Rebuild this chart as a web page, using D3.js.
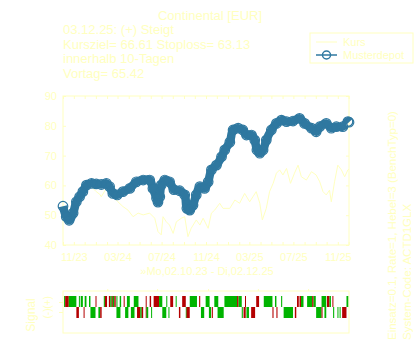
<!DOCTYPE html>
<html>
<head>
<meta charset="utf-8">
<script src="https://cdn.jsdelivr.net/npm/d3@7"></script>
<style>
    body { margin: 0; background: #fff; }
    text { font-family: "Liberation Sans", Arial, sans-serif; fill: #ffffc0; }
</style>
</head>
<body>
<div id="chart" style="width:420px;height:350px"></div>
<script>
// period of the chart, all day values below are days after startDate
const startDate = new Date(2023, 9, 2);
const endDate = new Date(2025, 11, 2);

const titleLines = ["03.12.25: (+) Steigt", "Kursziel= 66.61  Stoploss= 63.13", "innerhalb 10-Tagen", "Vortag= 65.42"];

// Kurs (price)
const kursDays = [0,9,18,28,37,46,55,65,79,92,102,106,120,134,152,166,180,194,208,222,240,254,263,272,277,286,295,305,314,328,337,346,355,369,379,388,402,411,420,434,443,462,476,489,503,517,526,535,545,552,563,572,582,591,600,609,619,630,641,651,660,674,688,701,711,720,729,738,743,752,761,771,780,789,792];
const kursValues = [53,50,48,49.5,51,54,57,59,59.5,57.9,57,56.2,59,56.8,54.5,52.9,51.7,49.5,50.7,50.1,50.7,49,44.5,43.4,49.5,47.8,46.7,43.9,47.8,49,49.5,42.8,45.6,48.4,46.7,49,45.6,50.7,51.7,54,52.3,52.3,55.1,54,57.3,54.5,56.2,57.9,54,48.4,52.3,57.9,60.7,64.1,65.2,63.5,65.7,60.7,64.1,66.8,62.9,61.8,64.6,63.5,61.2,57.9,56.8,58.4,54.5,61.2,66.8,65.2,62.9,65.2,65.4];

// Musterdepot
const depotDays = [0,9,17,28,37,46,55,65,79,92,106,120,129,138,150,166,185,203,222,240,249,259,263,268,272,282,295,307,323,337,343,351,360,369,379,392,402,411,425,439,448,462,471,485,498,508,522,531,537,545,554,563,577,591,605,619,637,655,669,688,701,711,729,743,757,775,789,792];
const depotValues = [53,49.5,48.3,50.7,54.5,56.2,57.9,60.1,60.7,60.5,60.3,60.7,59.6,57.3,56.8,57.9,59,61.2,61.8,61.8,59,55.7,54.4,56.2,60.1,61.8,61.2,58.6,58.2,56.8,52.3,51.7,53.4,56.8,59.6,59,61.2,65.2,66.8,69.6,71.9,74.5,78.6,79.2,78.6,76.9,76.9,75.2,71.9,70.8,71.9,75.2,78.6,80.8,81.9,81.4,81.6,82.5,80.8,79.2,78,79.7,80.8,79.2,79.7,79.7,81.4,81.2];

const yTicks = [40, 50, 60, 70, 80, 90];
const xLabelDates = ["2023-11-01", "2024-03-01", "2024-07-01", "2024-11-01", "2025-03-01", "2025-07-01", "2025-11-01"];

// signal segments [fromDay, toDay, colour]  g = green, r = red
const signalPlus = [[3,6,"g"],[6,16,"r"],[16,37,"g"],[44,46,"g"],[49,55,"g"],[60,65,"g"],[72,76,"g"],[90,92,"r"],[113,116,"g"],[116,122,"r"],[127,131,"r"],[131,135,"g"],[135,138,"r"],[138,142,"g"],[142,146,"r"],[148,150,"g"],[157,161,"g"],[168,170,"r"],[177,185,"g"],[196,209,"g"],[229,231,"r"],[240,244,"r"],[251,266,"r"],[266,275,"g"],[286,288,"g"],[297,305,"r"],[312,314,"g"],[330,340,"r"],[351,371,"g"],[377,380,"r"],[395,406,"g"],[419,430,"g"],[447,482,"g"],[482,486,"r"],[486,495,"g"],[504,506,"r"],[535,543,"r"],[556,580,"g"],[587,591,"g"],[604,607,"g"],[648,653,"r"],[655,659,"r"],[659,666,"g"],[676,690,"g"],[690,694,"r"],[694,700,"g"],[716,729,"g"],[731,738,"r"],[738,742,"g"],[746,748,"r"],[785,790,"g"]];
const signalMinus = [[37,44,"r"],[57,59,"r"],[76,90,"g"],[98,103,"g"],[103,107,"r"],[148,159,"g"],[172,181,"g"],[188,198,"g"],[205,214,"r"],[214,218,"g"],[218,222,"r"],[229,231,"r"],[231,236,"g"],[244,246,"g"],[275,286,"g"],[292,294,"g"],[321,325,"r"],[340,342,"g"],[342,351,"r"],[382,391,"g"],[404,410,"g"],[412,415,"r"],[428,445,"g"],[495,498,"g"],[500,506,"r"],[508,515,"g"],[521,532,"r"],[580,583,"r"],[591,594,"r"],[611,637,"g"],[642,646,"r"],[701,716,"g"],[716,718,"r"],[724,729,"g"],[748,751,"g"],[760,762,"g"],[766,768,"g"],[773,785,"r"]];
const signalTickDays = [124, 262, 403, 541, 680];

class SignalChart {

    constructor(parentElement) {
        this.parentElement = parentElement;
        this.yellow = "#ffffc0";
        this.blue = "#2f78a0";
        this.green = "#00b400";
        this.red = "#b40000";
        this.initVis();
    }

    initVis() {
        let vis = this;

        vis.left = 63; vis.right = 349; vis.top = 96; vis.bottom = 245;

        vis.svg = d3.select("#" + vis.parentElement).append("svg")
            .attr("width", 420)
            .attr("height", 350);

        vis.x = d3.scaleTime()
            .domain([startDate, endDate])
            .range([vis.left, vis.right]);
        vis.y = d3.scaleLinear()
            .domain([40, 90])
            .range([vis.bottom, vis.top]);

        vis.day = d => d3.timeDay.offset(startDate, d);

        // title block
        vis.svg.append("text")
            .attr("x", 210).attr("y", 19.5)
            .attr("text-anchor", "middle")
            .style("font-size", "13px")
            .text("Continental [EUR]");
        vis.svg.selectAll(".tline")
            .data(titleLines)
            .enter()
            .append("text")
            .attr("class", "tline")
            .attr("x", 63)
            .attr("y", (d, i) => 34 + i * 14.5)
            .style("font-size", "13px")
            .text(d => d);

        vis.drawMain();
        vis.drawLegend();
        vis.drawSignals();

        // rotated side notes
        vis.svg.append("text")
            .attr("transform", "translate(396,340) rotate(-90)")
            .style("font-size", "11.5px")
            .text("Einsatz=0.1, Rate=1, Hebel=3 (BenchTyp=0)");
        vis.svg.append("text")
            .attr("transform", "translate(411,340) rotate(-90)")
            .style("font-size", "11.5px")
            .text("System-Code: ACTD1GLX");
    }

    drawMain() {
        let vis = this;
        let months = d3.timeMonth.range(startDate, endDate);
        if (months[0] > startDate) months.unshift(startDate);

        // box
        vis.svg.append("rect")
            .attr("x", vis.left).attr("y", vis.top)
            .attr("width", vis.right - vis.left).attr("height", vis.bottom - vis.top)
            .attr("fill", "none").attr("stroke", vis.yellow);

        let gx = vis.svg.append("g")
            .attr("transform", `translate(0, ${vis.bottom})`)
            .call(d3.axisBottom(vis.x).tickValues(months).tickSizeInner(-3).tickSizeOuter(0).tickFormat(""));
        let gxt = vis.svg.append("g")
            .attr("transform", `translate(0, ${vis.top})`)
            .call(d3.axisTop(vis.x).tickValues(months).tickSizeInner(-3).tickSizeOuter(0).tickFormat(""));
        let gxl = vis.svg.append("g")
            .attr("transform", `translate(0, ${vis.bottom})`)
            .call(d3.axisBottom(vis.x)
                .tickValues(xLabelDates.map(d => d3.timeParse("%Y-%m-%d")(d)))
                .tickSize(0).tickPadding(8)
                .tickFormat(d3.timeFormat("%m/%y")));
        let gy = vis.svg.append("g")
            .attr("transform", `translate(${vis.left}, 0)`)
            .call(d3.axisLeft(vis.y).tickValues(yTicks).tickSizeInner(-3).tickSizeOuter(0).tickPadding(6));
        let gyr = vis.svg.append("g")
            .attr("transform", `translate(${vis.right}, 0)`)
            .call(d3.axisRight(vis.y).tickValues(yTicks).tickSizeInner(-3).tickSizeOuter(0).tickFormat(""));

        [gx, gxt, gxl, gy, gyr].forEach(g => {
            g.select(".domain").remove();
            g.selectAll("line").attr("stroke", vis.yellow);
            g.selectAll("text").attr("fill", vis.yellow)
                .style("font-family", "'Liberation Sans', Arial, sans-serif")
                .style("font-size", "11px");
        });

        vis.svg.append("text")
            .attr("x", 207).attr("y", 275)
            .attr("text-anchor", "middle")
            .style("font-size", "11px")
            .text("»Mo,02.10.23 - Di,02.12.25");

        let kurs = kursDays.map((d, i) => ({date: vis.day(d), value: kursValues[i]}));
        let depot = depotDays.map((d, i) => ({date: vis.day(d), value: depotValues[i]}));

        let line = d3.line()
            .x(d => vis.x(d.date))
            .y(d => vis.y(d.value));

        vis.svg.append("path")
            .datum(kurs)
            .attr("d", line)
            .attr("fill", "none")
            .attr("stroke", vis.yellow)
            .attr("stroke-width", 1);

        // thick band under the markers, the markers are so dense they read as a band
        vis.svg.append("path")
            .datum(depot)
            .attr("d", line.curve(d3.curveCatmullRom.alpha(0.5)))
            .attr("fill", "none")
            .attr("stroke", vis.blue)
            .attr("stroke-width", 8.5)
            .attr("stroke-linejoin", "round");

        vis.svg.selectAll(".depot")
            .data(depot)
            .enter()
            .append("circle")
            .attr("class", "depot")
            .attr("cx", d => vis.x(d.date))
            .attr("cy", d => vis.y(d.value))
            .attr("r", 4.8)
            .attr("fill", "none")
            .attr("stroke", vis.blue)
            .attr("stroke-width", 1.2);
    }

    drawLegend() {
        let vis = this;
        let lg = vis.svg.append("g").attr("transform", "translate(310, 33)");
        lg.append("rect")
            .attr("width", 103).attr("height", 30)
            .attr("fill", "none").attr("stroke", vis.yellow);
        lg.append("line")
            .attr("x1", 6).attr("x2", 27).attr("y1", 9).attr("y2", 9)
            .attr("stroke", vis.yellow);
        lg.append("line")
            .attr("x1", 6).attr("x2", 27).attr("y1", 22).attr("y2", 22)
            .attr("stroke", vis.blue).attr("stroke-width", 1.5);
        lg.append("circle")
            .attr("cx", 16.5).attr("cy", 22).attr("r", 4)
            .attr("fill", "none").attr("stroke", vis.blue).attr("stroke-width", 1.5);
        lg.selectAll(".ltext")
            .data(["Kurs", "Musterdepot"])
            .enter()
            .append("text")
            .attr("x", 33)
            .attr("y", (d, i) => 13 + i * 13)
            .style("font-size", "11px")
            .text(d => d);
    }

    drawSignals() {
        let vis = this;
        let top = 291, h = 42;
        let rowY = [296, 307], rowH = 11;

        vis.svg.append("rect")
            .attr("x", vis.left).attr("y", top)
            .attr("width", vis.right - vis.left).attr("height", h)
            .attr("fill", "none").attr("stroke", vis.yellow);

        [signalPlus, signalMinus].forEach((rows, k) => {
            vis.svg.append("g").selectAll("rect")
                .data(rows)
                .enter()
                .append("rect")
                .attr("x", d => vis.x(vis.day(d[0])))
                .attr("y", rowY[k])
                .attr("width", d => Math.max(1, vis.x(vis.day(d[1])) - vis.x(vis.day(d[0]))))
                .attr("height", rowH)
                .attr("fill", d => d[2] === "g" ? vis.green : vis.red);
        });

        // ticks
        vis.svg.selectAll(".sigtick")
            .data(signalTickDays)
            .enter()
            .append("line")
            .attr("x1", d => vis.x(vis.day(d)))
            .attr("x2", d => vis.x(vis.day(d)))
            .attr("y1", top - 2).attr("y2", top)
            .attr("stroke", vis.yellow);
        vis.svg.selectAll(".rowtick")
            .data([302.5, 312.5])
            .enter()
            .append("line")
            .attr("x1", vis.left - 4).attr("x2", vis.left)
            .attr("y1", d => d).attr("y2", d => d)
            .attr("stroke", vis.yellow);

        vis.svg.selectAll(".rowlab")
            .data(["(+)", "(-)"])
            .enter()
            .append("text")
            .attr("text-anchor", "middle")
            .attr("transform", (d, i) => `translate(51, ${[302.5, 313.5][i]}) rotate(-90)`)
            .style("font-size", "10px")
            .text(d => d);

        vis.svg.append("text")
            .attr("text-anchor", "middle")
            .attr("transform", "translate(35, 315) rotate(-90)")
            .style("font-size", "12px")
            .text("Signal");
    }
}

new SignalChart("chart");
</script>
</body>
</html>
